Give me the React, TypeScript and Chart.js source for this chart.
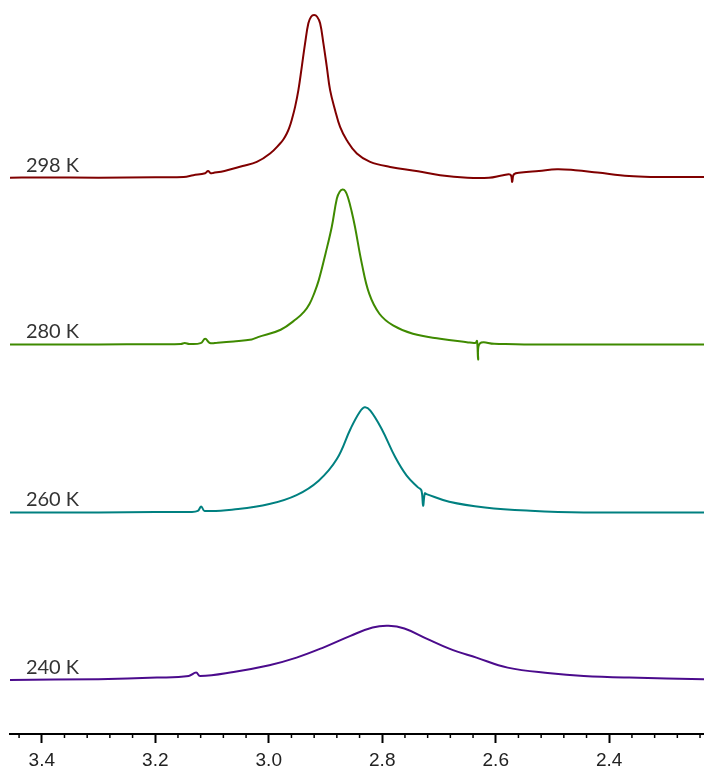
import React, { useEffect, useRef } from "react";
import { Chart, registerables } from "chart.js";

Chart.register(...registerables);

// Chemical shift window (ppm), drawn high-to-low like an NMR spectrum
const SHIFT_LEFT = 3.456;
const SHIFT_RIGHT = 2.233;
const MAJOR_TICKS = [3.4, 3.2, 3.0, 2.8, 2.6, 2.4];
const MINOR_STEP = 0.04;

// 298 K trace
const PPM_298 = [3.456, 3.4, 3.3, 3.2, 3.15, 3.133, 3.112, 3.107, 3.102, 3.098, 3.078, 3.046, 3.0211, 2.9977, 2.98, 2.974, 2.9682, 2.9638, 2.9594, 2.9536, 2.9478, 2.9418, 2.936, 2.9302, 2.9254, 2.9201, 2.9148, 2.9095, 2.9037, 2.8977, 2.8919, 2.8831, 2.8743, 2.8625, 2.8448, 2.8214, 2.7861, 2.737, 2.698, 2.65, 2.612, 2.587, 2.574, 2.571, 2.568, 2.555, 2.524, 2.492, 2.46, 2.421, 2.365, 2.326, 2.286, 2.233];
const INT_298 = [0, 0.3, 0, 0.5, 0.8, 2.5, 4.5, 6.8, 4.5, 4.8, 6.8, 11.8, 15.8, 24.2, 34.2, 38.5, 44.2, 50, 58, 70.8, 87.5, 110.8, 134.2, 154.2, 160.8, 162.5, 160.8, 154.2, 134.2, 110.8, 87.5, 67.5, 50.8, 37.5, 24.2, 15.8, 10.8, 6.5, 2.5, 0, 0, 2.5, 3, -4.2, 3.5, 5.2, 6.8, 8.5, 7.5, 5.2, 1.8, 0.8, 0.8, 0.8];

// 280 K trace
const PPM_280 = [3.456, 3.3, 3.2, 3.155, 3.148, 3.14, 3.12, 3.112, 3.104, 3.09, 3.062, 3.03, 3.019, 2.979, 2.951, 2.938, 2.928, 2.92, 2.912, 2.9, 2.889, 2.88, 2.875, 2.87, 2.865, 2.86, 2.854, 2.848, 2.836, 2.823, 2.805, 2.781, 2.746, 2.698, 2.651, 2.636, 2.633, 2.631, 2.628, 2.603, 2.55, 2.4, 2.233];
const INT_280 = [0, 0, 0.3, 0.5, 1.5, 0.5, 1.3, 5.7, 1.5, 1.8, 3, 5, 7.3, 14.7, 25.7, 32.5, 40.7, 51, 64, 90.7, 117.3, 145.7, 152.5, 154.7, 153, 146, 133, 117.3, 80.7, 50.7, 30.7, 19, 10.7, 5.7, 2.3, 1.5, 3.5, -15, 1, 0.7, 0, 0, 0];

// 260 K trace
const PPM_260 = [3.456, 3.3, 3.2, 3.139, 3.125, 3.119, 3.113, 3.054, 2.999, 2.951, 2.912, 2.88, 2.856, 2.84, 2.831, 2.821, 2.801, 2.777, 2.757, 2.737, 2.731, 2.728, 2.725, 2.722, 2.682, 2.619, 2.539, 2.445, 2.233];
const INT_260 = [0, 0, 0.3, 0.5, 1.5, 6, 1.5, 3.3, 8.3, 17.3, 31.7, 53.3, 83.3, 100, 105, 101.7, 83.3, 55, 36.7, 25, 22, 6.7, 19, 18.3, 10.7, 5, 1.7, 0, 0];

// 240 K trace
const PPM_240 = [3.456, 3.3, 3.197, 3.141, 3.128, 3.121, 3.062, 2.999, 2.951, 2.904, 2.856, 2.817, 2.789, 2.761, 2.722, 2.682, 2.634, 2.579, 2.504, 2.445, 2.365, 2.233];
const INT_240 = [0, 0.8, 2.3, 4, 7.3, 4, 8, 14.7, 22.3, 32.3, 44, 52.3, 54, 51.3, 41.3, 31.3, 22.3, 12.3, 6.7, 4, 2.3, 0.7];

// Stacking: temperature labels, vertical offsets and colours, top to bottom
const TEMPS = ["298 K", "280 K", "260 K", "240 K"];
const OFFSETS = [501.5, 335, 167.3, 0];
const COLORS = ["#800000", "#3f8a00", "#008080", "#4b0b8c"];
const SERIES = [
  [PPM_298, INT_298],
  [PPM_280, INT_280],
  [PPM_260, INT_260],
  [PPM_240, INT_240],
];

const Y_MIN = -54;
const Y_MAX = 679;

const minorTicksPlugin = {
  id: "minorTicks",
  afterDraw(chart: any) {
    const scale = chart.scales.x;
    const ctx = chart.ctx;
    const bottom = chart.chartArea.bottom;
    ctx.save();
    ctx.strokeStyle = "#000";
    ctx.lineWidth = 1.5;
    for (let k = Math.ceil(SHIFT_RIGHT / MINOR_STEP); k * MINOR_STEP <= SHIFT_LEFT; k++) {
      const v = k * MINOR_STEP;
      if (MAJOR_TICKS.some((m) => Math.abs(m - v) < 1e-6)) continue;
      const x = scale.getPixelForValue(v);
      ctx.beginPath();
      ctx.moveTo(x, bottom);
      ctx.lineTo(x, bottom + 4);
      ctx.stroke();
    }
    ctx.restore();
  },
};

const traceLabelPlugin = {
  id: "traceLabels",
  afterDatasetsDraw(chart: any) {
    const xs = chart.scales.x;
    const ys = chart.scales.y;
    const ctx = chart.ctx;
    ctx.save();
    ctx.font = "400 20px Lato, 'Open Sans', sans-serif";
    ctx.fillStyle = "#333";
    ctx.textAlign = "left";
    ctx.textBaseline = "alphabetic";
    TEMPS.forEach((t, i) => {
      ctx.fillText(t, xs.getPixelForValue(3.428), ys.getPixelForValue(OFFSETS[i]) - 6);
    });
    ctx.restore();
  },
};

export default function App() {
  const ref = useRef<HTMLCanvasElement>(null);

  useEffect(() => {
    if (!ref.current) return;
    const chart = new Chart(ref.current, {
      type: "line",
      data: {
        datasets: SERIES.map(([ppm, inten], i) => ({
          label: TEMPS[i],
          data: ppm.map((p, j) => ({ x: p, y: inten[j] + OFFSETS[i] })),
          borderColor: COLORS[i],
          borderWidth: 2,
          pointRadius: 0,
          fill: false,
          tension: 0.4,
        })),
      },
      options: {
        animation: false,
        responsive: true,
        maintainAspectRatio: false,
        layout: { padding: { left: 10, right: 0, top: 0, bottom: 0 } },
        plugins: { legend: { display: false }, tooltip: { enabled: false } },
        scales: {
          x: {
            type: "linear",
            reverse: true,
            min: SHIFT_RIGHT,
            max: SHIFT_LEFT,
            afterBuildTicks: (scale: any) => {
              scale.ticks = MAJOR_TICKS.map((v) => ({ value: v }));
            },
            border: { display: true, color: "#000", width: 2 },
            grid: {
              drawOnChartArea: false,
              drawTicks: true,
              tickLength: 9,
              tickWidth: 2,
              tickColor: "#000",
            },
            ticks: {
              color: "#222",
              padding: 8,
              font: { family: "'Liberation Sans', Arial, sans-serif", size: 19, lineHeight: 1 },
              callback: (v: any) => Number(v).toFixed(1),
              maxRotation: 0,
              autoSkip: false,
            },
          },
          y: { display: false, min: Y_MIN, max: Y_MAX },
        },
      },
      plugins: [minorTicksPlugin, traceLabelPlugin],
    });
    return () => chart.destroy();
  }, []);

  return (
    <div style={{ position: "fixed", left: 0, top: 0, width: 704, height: 778, background: "#fff" }}>
      <canvas ref={ref} />
    </div>
  );
}
